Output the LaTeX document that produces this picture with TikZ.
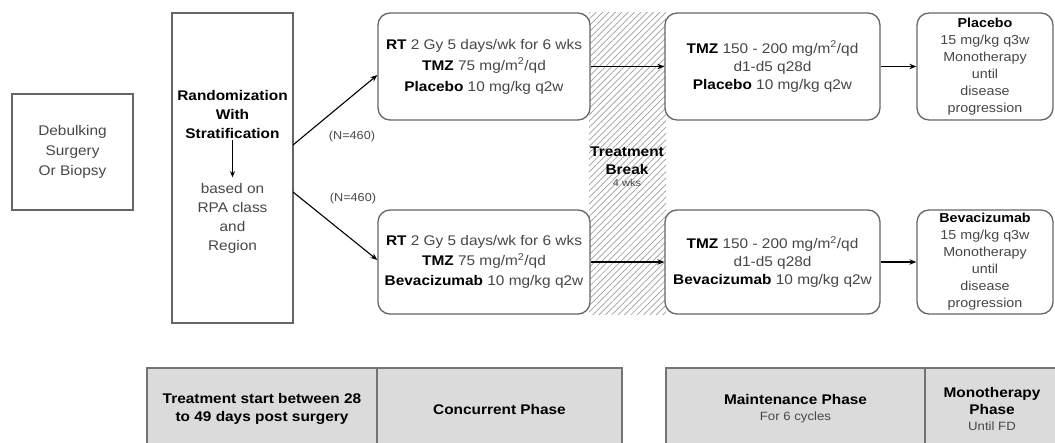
\documentclass[tikz,border=0pt]{standalone}
\usepackage{fontspec}
\setmainfont[FakeStretch=1.1]{Liberation Sans}
\usetikzlibrary{arrows.meta,patterns.meta,calc}
\newcommand{\bb}[1]{\textcolor{black}{\textbf{#1}}}
\begin{document}
\begin{tikzpicture}[x=1pt,y=-1pt,
  box/.style={draw=black!60, line width=1.3pt, fill=white, align=center, text=black!72, inner sep=0pt},
  rbox/.style={box, rounded corners=12pt},
  txt/.style={align=center, text=black!72, inner sep=0pt},
  arr/.style={-{Stealth[length=7pt,width=5.5pt]}, line width=1.1pt, draw=black},
  tcell/.style={draw=black!55, line width=1.3pt, fill=black!14, align=center, text=black!72, inner sep=0pt},
  big/.style={font=\fontsize{14}{21}\selectfont},
  mid/.style={font=\fontsize{14}{18}\selectfont},
  sml/.style={font=\fontsize{13}{17}\selectfont}
]
\useasboundingbox (0,0) rectangle (1055,443);
\clip (0,0) rectangle (1055,443);

% treatment break hatch
\node[minimum width=77pt, minimum height=302pt, inner sep=0pt,
      pattern={Lines[angle=45,distance=4.5pt,line width=0.7pt]}, pattern color=black!38] (brk) at (627.5,164) {};
\node[txt, font=\fontsize{14}{18}\selectfont] (tb) at (627,161) {\bb{Treatment}\\\bb{Break}};
\node[txt, font=\fontsize{10}{12}\selectfont] (tw) at (627,183) {4 wks};

% debulking
\node[box, font=\fontsize{14}{20}\selectfont, minimum width=121pt, minimum height=116pt] (deb) at (72.5,152) {Debulking\\Surgery\\Or Biopsy};

% randomization
\node[box, minimum width=121pt, minimum height=310pt] (rand) at (232.5,168) {};
\node[txt, font=\fontsize{14}{19}\selectfont] (rtop) at (232.5,114) {\bb{Randomization}\\\bb{With}\\\bb{Stratification}};
\node[txt, font=\fontsize{14}{19}\selectfont] (rbot) at (232.5,218.5) {based on\\RPA class\\and\\Region};
\draw[-{Stealth[length=6pt,width=5pt]}, line width=0.9pt] ([yshift=-2pt]rtop.south) -- ([yshift=6pt]rbot.north);

% concurrent
\node[rbox, big, minimum width=212pt, minimum height=107pt] (c1) at (484,66.5)
  {\bb{RT} 2 Gy 5 days/wk for 6 wks\\\bb{TMZ} 75 mg/m\textsuperscript{2}/qd\\\bb{Placebo} 10 mg/kg q2w};
\node[rbox, font=\fontsize{14}{20}\selectfont, minimum width=212pt, minimum height=104pt] (c2) at (484,262)
  {\bb{RT} 2 Gy 5 days/wk for 6 wks\\\bb{TMZ} 75 mg/m\textsuperscript{2}/qd\\\bb{Bevacizumab} 10 mg/kg q2w};

% maintenance
\node[rbox, mid, minimum width=215pt, minimum height=107pt] (m1) at (772.5,66.5)
  {\bb{TMZ} 150 - 200 mg/m\textsuperscript{2}/qd\\d1-d5 q28d\\\bb{Placebo} 10 mg/kg q2w};
\node[rbox, mid, minimum width=215pt, minimum height=104pt] (m2) at (772.5,262)
  {\bb{TMZ} 150 - 200 mg/m\textsuperscript{2}/qd\\d1-d5 q28d\\\bb{Bevacizumab} 10 mg/kg q2w};

% monotherapy
\node[rbox, sml, minimum width=136pt, minimum height=107pt] (p1) at (985,66.5)
  {\bb{Placebo}\\15 mg/kg q3w\\Monotherapy\\until\\disease\\progression};
\node[rbox, sml, minimum width=136pt, minimum height=104pt] (p2) at (985,262)
  {\bb{Bevacizumab}\\15 mg/kg q3w\\Monotherapy\\until\\disease\\progression};

% N labels
\node[txt, font=\fontsize{11.5}{13}\selectfont] (n1) at (352,137) {(N=460)};
\node[txt, font=\fontsize{11.5}{13}\selectfont] (n2) at (353,199) {(N=460)};

% arrows
\coordinate (r1) at (293,145);
\coordinate (r2) at (293,192);
\draw[arr] (r1) -- ([yshift=-8.5pt]c1.west);
\draw[arr] (r2) -- ([yshift=2pt]c2.west);
\draw[arr] (c1.east) -- (m1.west);
\draw[arr] (c2.east) -- (m2.west);
\draw[arr] (m1.east) -- (p1.west);
\draw[arr] (m2.east) -- (p2.west);

% phase table
\node[tcell, minimum width=230pt, minimum height=82pt, font=\fontsize{14}{18}\selectfont] (t1) at (262,409)
  {\bb{Treatment start between 28}\\\bb{to 49 days post surgery}};
\node[tcell, minimum width=245pt, minimum height=82pt, font=\fontsize{14}{18}\selectfont] (t2) at (499.5,409)
  {\bb{Concurrent Phase}};
\node[tcell, minimum width=259pt, minimum height=82pt, font=\fontsize{14}{16}\selectfont] (t3) at (795.5,409)
  {\bb{Maintenance Phase}\\{\fontsize{12}{14}\selectfont For 6 cycles}};
\node[tcell, minimum width=134pt, minimum height=82pt, font=\fontsize{14}{16.5}\selectfont] (t4) at (992,409)
  {\bb{Monotherapy}\\\bb{Phase}\\{\fontsize{12}{14}\selectfont Until FD}};
\end{tikzpicture}
\end{document}
